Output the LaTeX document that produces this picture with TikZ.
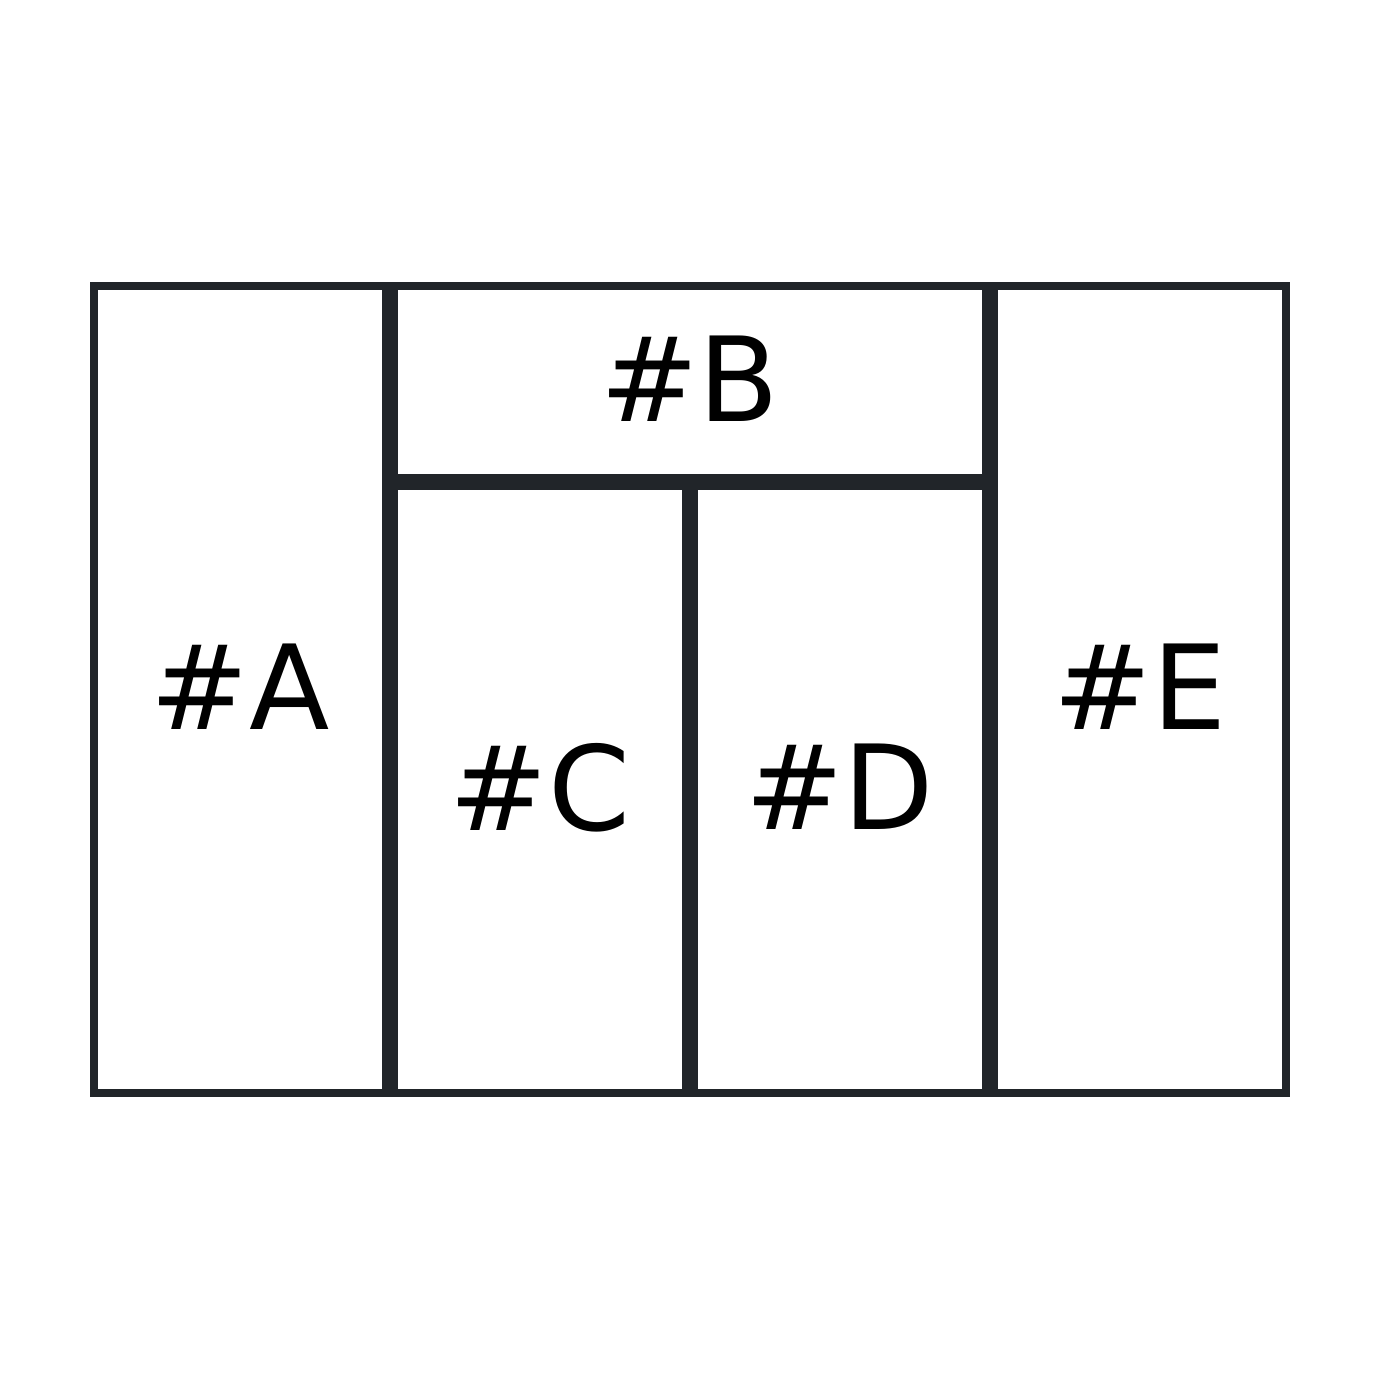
\documentclass[tikz,border=0pt]{standalone}
\usepackage{fontspec}
\setmainfont{DejaVu Sans}
\usepackage{tikz}
\usetikzlibrary{positioning}
\definecolor{darkline}{RGB}{33, 37, 41}

\begin{document}
\begin{tikzpicture}[x=0.1mm, y=-0.1mm,
  cell/.style={draw=darkline, line width=0.8mm, rectangle, inner sep=0pt,
    minimum width=29.2mm, text depth=0.6mm, font=\fontsize{33.4}{40}\selectfont}]
  \useasboundingbox (0,0) rectangle (1380,1380);
  % outer columns
  \node[cell, minimum height=80.7mm] (colA) at (240,689.5) {\#A};
  \node[cell, minimum height=80.7mm] (colE) at (1140,689.5) {\#E};
  % middle: top strip and two cells
  \node[cell, minimum width=59.2mm, minimum height=19.2mm] (rowB) at (690,382) {\#B};
  \node[cell, minimum height=60.7mm] (cellC) at (540,789.5) {\#C};
  \node[cell, minimum height=60.7mm] (cellD) at (840,789.5) {\#D};
\end{tikzpicture}
\end{document}
